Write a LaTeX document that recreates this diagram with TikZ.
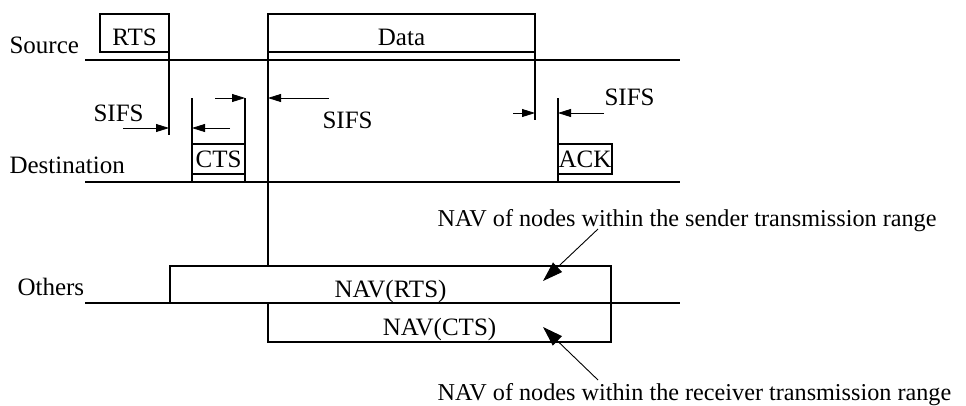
\documentclass[tikz,border=0pt]{standalone}
\usepackage{fontspec}
\setmainfont{Liberation Serif}
\usetikzlibrary{arrows.meta}

\begin{document}
\begin{tikzpicture}[x=1pt, y=-1pt, line width=1.1pt,
    frame/.style={draw, rectangle, inner sep=0pt, outer sep=0pt,
        text depth=0pt, font=\fontsize{25}{30}\selectfont},
    lbl/.style={anchor=base west, inner sep=0pt, font=\fontsize{25}{30}\selectfont},
    note/.style={anchor=base west, inner sep=0pt, font=\fontsize{24.2}{29}\selectfont},
    sifs/.style={line width=0.8pt, -{Triangle[length=13pt,width=8pt]}},
    pointer/.style={line width=0.9pt, -{Triangle[length=20pt,width=13pt]}}]
    \useasboundingbox (0,0) rectangle (966,405);

    % Define the ends of the time lines
    \coordinate (S0) at (85,60);
    \coordinate (S1) at (680,60);
    \coordinate (D0) at (85,182);
    \coordinate (D1) at (680,182);
    \coordinate (O0) at (85,303);
    \coordinate (O1) at (680,303);

    % Draw the time lines
    \draw (S0) -- (S1);
    \draw (D0) -- (D1);
    \draw (O0) -- (O1);

    % Place the station names
    \node[lbl] (src) at (9,53) {Source};
    \node[lbl] (dst) at (9,173) {Destination};
    \node[lbl] (oth) at (17,295) {Others};

    % Draw the frames
    \node[frame, anchor=north west, minimum width=69pt, minimum height=38pt, text height=24pt] (rts) at (100,14) {RTS};
    \node[frame, anchor=north west, minimum width=267pt, minimum height=38pt, text height=24pt] (data) at (268,14) {Data};
    \node[frame, anchor=north west, minimum width=53pt, minimum height=30pt, text height=16pt] (cts) at (192,144) {CTS};
    \node[frame, anchor=north west, minimum width=54pt, minimum height=30pt, text height=16pt] (ack) at (558,144) {ACK};
    \node[frame, anchor=north west, minimum width=441pt, minimum height=37pt, text height=25pt] (navrts) at (170,266) {NAV(RTS)};
    \node[frame, anchor=north west, minimum width=343pt, minimum height=39pt, text height=25pt] (navcts) at (268,303) {NAV(CTS)};

    % Define the ends of the frame edges
    \coordinate (R1) at (169,135);
    \coordinate (T1) at (192,98);
    \coordinate (T2) at (245,98);
    \coordinate (E1) at (535,120);
    \coordinate (K1) at (558,98);

    % Draw the frame edges
    \draw (rts.north east) -- (R1);
    \draw (data.north west) -- (data.north west |- navrts.north);
    \draw (data.north east) -- (E1);
    \draw (T1) -- (cts.south west) -- (cts.south west |- D0);
    \draw (T2) -- (cts.south east) -- (cts.south east |- D0);
    \draw (K1) -- (ack.south west) -- (ack.south west |- D0);

    % Draw the SIFS arrows
    \coordinate (a1) at (123,128);
    \coordinate (a2) at (230,128);
    \coordinate (a3) at (215,98);
    \coordinate (a4) at (329,98);
    \coordinate (a5) at (513,113);
    \coordinate (a6) at (604,113);
    \draw[sifs] (a1) -- (a1 -| R1);
    \draw[sifs] (a2) -- (a2 -| T1);
    \draw[sifs] (a3) -- (T2);
    \draw[sifs] (a4) -- (a4 -| data.west);
    \draw[sifs] (a5) -- (a5 -| E1);
    \draw[sifs] (a6) -- (a6 -| K1);

    % Place the SIFS labels
    \node[lbl] (s1) at (93,121) {SIFS};
    \node[lbl] (s2) at (322,128) {SIFS};
    \node[lbl] (s3) at (604,105) {SIFS};

    % NAV notes and their pointers
    \node[note] (snd) at (437,226) {NAV of nodes within the sender transmission range};
    \node[note] (rcv) at (437,400) {NAV of nodes within the receiver transmission range};
    \coordinate (p1) at (598,229);
    \coordinate (q1) at (543,281);
    \coordinate (p2) at (598,380);
    \coordinate (q2) at (543,327);
    \draw[pointer] (p1) -- (q1);
    \draw[pointer] (p2) -- (q2);
\end{tikzpicture}
\end{document}
